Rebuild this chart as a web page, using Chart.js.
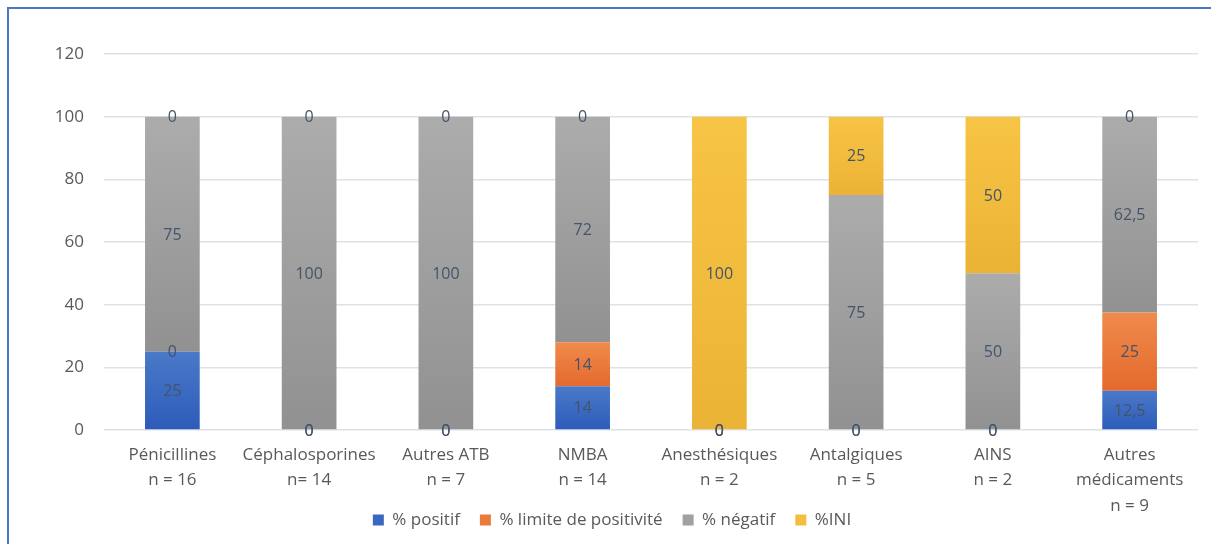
<!DOCTYPE html>
<html>
<head>
<meta charset="utf-8">
<script src="https://cdn.jsdelivr.net/npm/chart.js@4/dist/chart.umd.min.js"></script>
<style>
    html, body { margin: 0; padding: 0; background: #fff; overflow: hidden; }
    .frame { position: absolute; left: 7px; top: 7px; width: 1400px; height: 800px; border: 2px solid #4a76c6; }
    .wrap { position: absolute; left: 0; top: 0; width: 1211px; height: 544px; }
</style>
</head>
<body>
<div class="frame"></div>
<div class="wrap"><canvas id="chart" width="1211" height="544"></canvas></div>
<script>
const categories = [
    ['Pénicillines', 'n = 16'],
    ['Céphalosporines', 'n= 14'],
    ['Autres ATB', 'n = 7'],
    ['NMBA', 'n = 14'],
    ['Anesthésiques', 'n = 2'],
    ['Antalgiques', 'n = 5'],
    ['AINS', 'n = 2'],
    ['Autres', 'médicaments', 'n = 9'],
];
const positif = [25, 0, 0, 14, 0, 0, 0, 12.5];
const limite = [0, 0, 0, 14, 0, 0, 0, 25];
const negatif = [75, 100, 100, 72, 0, 75, 50, 62.5];
const ini = [0, 0, 0, 0, 100, 25, 50, 0];
const yTicks = [0, 20, 40, 60, 80, 100, 120];

const seriesNames = ['% positif', '% limite de positivité', '% négatif', '%INI'];
// top / bottom shade of each series
const shades = [
    ['#4a79c9', '#2c5cb9'],
    ['#f08b4d', '#e4692c'],
    ['#acacac', '#919191'],
    ['#f8c445', '#ebb336'],
];
const flat = ['#3a68c0', '#ec7a3c', '#a0a0a0', '#f5bd3e'];

const font = "'Open Sans', 'DejaVu Sans', sans-serif";
const allSeries = [positif, limite, negatif, ini];

function segmentFill(c) {
    const chart = c.chart;
    const y = chart.scales && chart.scales.y;
    if (!chart.chartArea || !y || c.dataIndex === undefined) {
        return flat[c.datasetIndex];
    }
    let base = 0;
    for (let d = 0; d < c.datasetIndex; d++) {
        base += allSeries[d][c.dataIndex];
    }
    const value = allSeries[c.datasetIndex][c.dataIndex];
    const top = y.getPixelForValue(base + value);
    const bottom = y.getPixelForValue(base);
    if (bottom - top < 1) {
        return flat[c.datasetIndex];
    }
    const g = chart.ctx.createLinearGradient(0, top, 0, bottom);
    g.addColorStop(0, shades[c.datasetIndex][0]);
    g.addColorStop(1, shades[c.datasetIndex][1]);
    return g;
}

const segmentLabels = {
    id: 'segmentLabels',
    afterDatasetsDraw(chart) {
        const ctx = chart.ctx;
        ctx.save();
        ctx.font = '16px ' + font;
        ctx.fillStyle = '#44546a';
        ctx.textAlign = 'center';
        ctx.textBaseline = 'middle';
        chart.data.datasets.forEach((ds, di) => {
            const meta = chart.getDatasetMeta(di);
            meta.data.forEach((bar, i) => {
                const text = String(ds.data[i]).replace('.', ',');
                ctx.fillText(text, bar.x, (bar.y + bar.base) / 2 + 1);
            });
        });
        ctx.restore();
    }
};

// the legend sits beside the third line of the last category label
const legendShift = {
    id: 'legendShift',
    afterLayout(chart) {
        const lg = chart.legend;
        lg.top = 520 - 20 - 8.5;
        lg.bottom = 544;
        lg.height = lg.bottom - lg.top;
        lg.left += 8;
        lg.right += 8;
    }
};

document.addEventListener('DOMContentLoaded', () => {
    const ctx = document.getElementById('chart');

    new Chart(ctx, {
        type: 'bar',
        data: {
            labels: categories,
            datasets: allSeries.map((values, i) => ({
                label: seriesNames[i],
                data: values,
                backgroundColor: segmentFill,
                borderWidth: 0,
                barPercentage: 0.4,
                categoryPercentage: 1,
            }))
        },
        options: {
            responsive: false,
            animation: false,
            layout: {
                padding: {left: 10, right: 13, top: 54, bottom: 0}
            },
            plugins: {
                legend: {
                    position: 'bottom',
                    maxHeight: 24,
                    labels: {
                        font: {family: font, size: 17},
                        color: '#595959',
                        boxWidth: 11,
                        boxHeight: 11,
                        padding: 20,
                        generateLabels(chart) {
                            return seriesNames.map((name, i) => ({
                                text: name,
                                fillStyle: flat[i],
                                strokeStyle: flat[i],
                                lineWidth: 0,
                                datasetIndex: i,
                                fontColor: '#595959',
                            }));
                        }
                    }
                },
                tooltip: {enabled: false}
            },
            scales: {
                x: {
                    stacked: true,
                    grid: {display: false, drawTicks: false},
                    border: {display: false},
                    ticks: {
                        font: {family: font, size: 17, lineHeight: 1.5},
                        color: '#595959',
                        padding: 12,
                        maxRotation: 0,
                        autoSkip: false
                    },
                    afterFit(scale) {
                        scale.height = 90;
                    }
                },
                y: {
                    stacked: true,
                    min: 0,
                    max: 120,
                    afterBuildTicks(scale) {
                        scale.ticks = yTicks.map(v => ({value: v}));
                    },
                    grid: {color: '#dde1ea', lineWidth: 1.5, drawTicks: false},
                    border: {display: false},
                    ticks: {
                        font: {family: font, size: 17},
                        color: '#595959',
                        padding: 20
                    },
                    afterFit(scale) {
                        scale.width = 94;
                    }
                }
            }
        },
        plugins: [segmentLabels, legendShift]
    });
});
</script>
</body>
</html>
